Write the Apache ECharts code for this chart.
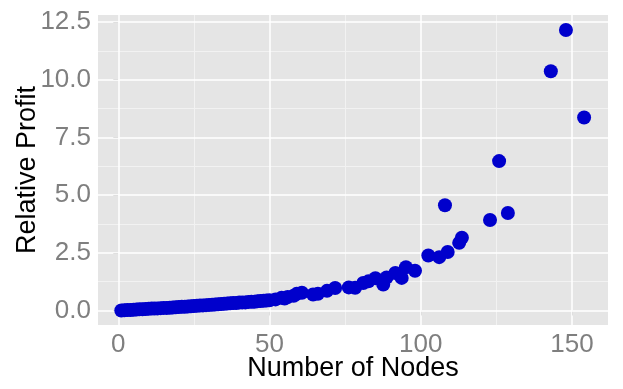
<!DOCTYPE html>
<html lang="en">
<head>
    <meta charset="utf-8">
    <script src="https://cdn.jsdelivr.net/npm/echarts@6.0.0/dist/echarts.min.js"></script>
    <style>
        html, body { margin: 0; padding: 0; background: #fff; }
        #chart { width: 623px; height: 389px; }
    </style>
</head>
<body>
<div id="chart"></div>
<script>
// number of nodes vs relative profit
const nodes = [1,2,3,4,5,6,7,8,9,10,11,12,13,14,15,16,17,18,19,20,
    21,22,23,24,25,26,27,28,29,30,31,32,33,34,35,36,37,38,39,40,
    41,42,43,44,45,46,47,48,49,50,52,54,55,56,58,59,
    60.7,64.4,66,69,71.7,76.2,78.3,81,82.7,85,87.6,88.7,91.6,93.7,95.1,98.1,
    102.5,106.1,108.9,108,112.7,113.6,122.9,125.9,128.8,143,148,154];
const profit = [0.00,0.01,0.02,0.02,0.03,0.04,0.05,0.05,0.06,0.07,0.08,0.08,0.09,0.10,0.11,0.11,0.12,0.13,0.14,0.15,
    0.16,0.16,0.17,0.18,0.19,0.20,0.21,0.22,0.23,0.24,0.25,0.26,0.27,0.28,0.29,0.30,0.31,0.32,0.32,0.34,
    0.35,0.35,0.37,0.38,0.38,0.40,0.41,0.42,0.43,0.44,0.48,0.55,0.52,0.58,0.64,0.72,
    0.77,0.69,0.72,0.85,0.97,1.00,0.98,1.19,1.26,1.40,1.12,1.43,1.62,1.41,1.87,1.72,
    2.38,2.31,2.53,4.56,2.93,3.15,3.92,6.47,4.22,10.36,12.15,8.36];
const xTicks = [0, 50, 100, 150];
const xMinor = [25, 75, 125];
const yTicks = [0, 2.5, 5, 7.5, 10, 12.5];
const yMinor = [1.25, 3.75, 6.25, 8.75, 11.25];

const points = nodes.map((n, i) => [n, profit[i]]);
const font = 'Liberation Sans, Arial, Helvetica, sans-serif';

function gridLines(vals, key, color, width) {
    return vals.map(v => ({ [key]: v, lineStyle: { color: color, width: width, type: 'solid' } }));
}

let chart = echarts.init(document.querySelector('#chart'), null, { renderer: 'canvas' });
chart.setOption({
    animation: false,
    grid: { left: 98, right: 15, top: 15, bottom: 64, outerBoundsMode: 'none', containLabel: false,
            show: true, backgroundColor: '#E5E5E5', borderWidth: 0 },
    xAxis: {
        type: 'value', min: -6.7, max: 161.9,
        name: 'Number of Nodes', nameLocation: 'middle', nameGap: 30, nameMoveOverlap: false,
        nameTextStyle: { color: '#000', fontSize: 27, fontFamily: font },
        axisLine: { show: false },
        axisTick: { show: true, customValues: xTicks, length: 5, lineStyle: { color: '#7F7F7F' } },
        axisLabel: { customValues: xTicks, color: '#7F7F7F', fontSize: 26, fontFamily: font, margin: 7 },
        splitLine: { show: false }
    },
    yAxis: {
        type: 'value', min: -0.63, max: 12.8,
        name: 'Relative Profit', nameLocation: 'middle', nameGap: 57, nameMoveOverlap: false,
        nameTextStyle: { color: '#000', fontSize: 27, fontFamily: font },
        axisLine: { show: false },
        axisTick: { show: true, customValues: yTicks, length: 5, lineStyle: { color: '#7F7F7F' } },
        axisLabel: { customValues: yTicks, color: '#7F7F7F', fontSize: 26, fontFamily: font, margin: 7,
            formatter: v => v.toFixed(1) },
        splitLine: { show: false }
    },
    series: [
        {
            type: 'scatter', data: [], z: 1, silent: true,
            markLine: {
                silent: true, symbol: 'none', label: { show: false }, animation: false, z: 1,
                data: [].concat(
                    gridLines(xMinor, 'xAxis', '#F2F2F2', 1),
                    gridLines(yMinor, 'yAxis', '#F2F2F2', 1),
                    gridLines(xTicks, 'xAxis', '#FFFFFF', 1.5),
                    gridLines(yTicks, 'yAxis', '#FFFFFF', 1.5)
                )
            }
        },
        {
            type: 'scatter', data: points, z: 3,
            symbol: 'circle', symbolSize: 14,
            itemStyle: { color: '#0000CC', opacity: 1 }
        }
    ]
});
</script>
</body>
</html>
